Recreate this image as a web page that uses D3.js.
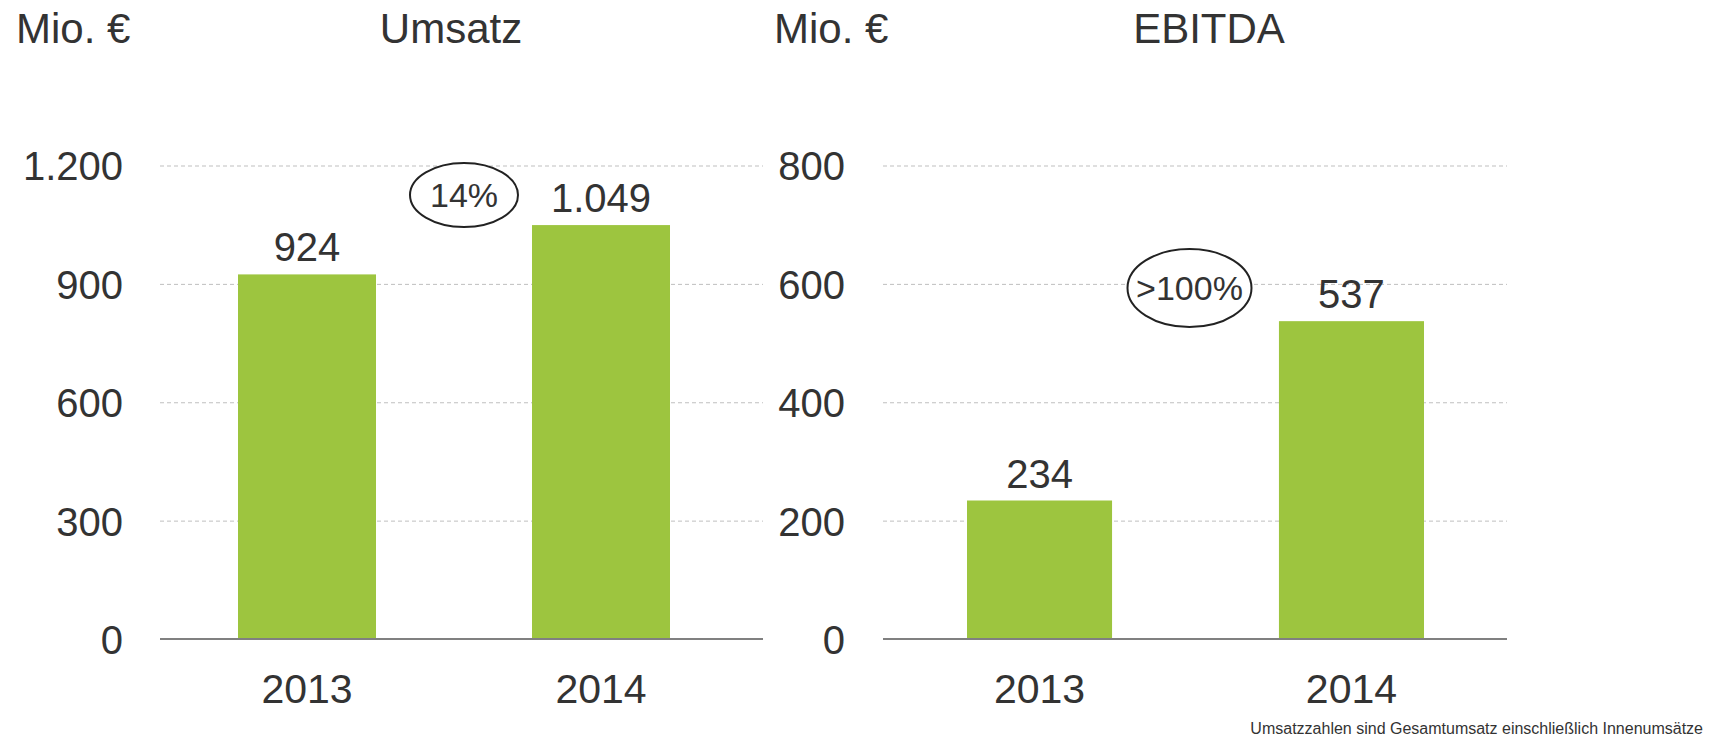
<!DOCTYPE html>
<html>
<head>
<meta charset="utf-8">
<script src="https://cdn.jsdelivr.net/npm/d3@7"></script>
<style>
  body { margin: 0; background: #fff; }
  text { font-family: "Liberation Sans", Arial, sans-serif; fill: #333; }
</style>
</head>
<body>
<svg id="chart" width="1710" height="739"></svg>
<script>
var years = ["2013", "2014"];
var umsatz = [924, 1049];
var ebitda = [234, 537];
var umsatzTicks = [0, 300, 600, 900, 1200];
var ebitdaTicks = [0, 200, 400, 600, 800];
var titles = ["Umsatz", "EBITDA"];
var changes = ["14%", ">100%"];
var unit = "Mio. €";
var footnote = "Umsatzzahlen sind Gesamtumsatz einschließlich Innenumsätze";

var de = d3.formatLocale({decimal: ",", thousands: ".", grouping: [3], currency: ["", " €"]});
var fmt = de.format(",d");

var svg = d3.select("#chart");
var haut = 165.5, bas = 639;

var panels = [
  {values: umsatz, ticks: umsatzTicks, max: 1200, title: titles[0], change: changes[0],
   axe: [160, 763], barres: [238, 670], pad: 0.5306, unitX: 16, titleX: 451, labelPad: 37,
   ell: {dx: 10, v: 1125, rx: 54, ry: 32}},
  {values: ebitda, ticks: ebitdaTicks, max: 800, title: titles[1], change: changes[1],
   axe: [883, 1507], barres: [967, 1424], pad: 0.535, unitX: 774, titleX: 1209, labelPad: 38,
   ell: {dx: -6, v: 593, rx: 62, ry: 39}}
];

panels.forEach(function(p) {
  var x = d3.scaleBand().domain(years).range(p.barres).paddingInner(p.pad);
  var y = d3.scaleLinear().domain([0, p.max]).range([bas, haut]);
  var g = svg.append("g");

  // grille + graduations
  var yAxis = g.append("g")
    .attr("transform", `translate(${p.axe[0]},0)`)
    .call(d3.axisLeft(y).tickValues(p.ticks).tickFormat(fmt)
      .tickSize(-(p.axe[1] - p.axe[0])).tickPadding(p.labelPad));
  yAxis.select(".domain").remove();
  yAxis.selectAll(".tick line")
    .attr("stroke", "#bfbfbf")
    .attr("stroke-dasharray", "4,3")
    .attr("display", function(d) { return d === 0 ? "none" : null; });
  yAxis.selectAll(".tick text")
    .attr("dy", "0.36em")
    .style("font-size", "40px")
    .style("font-family", "'Liberation Sans', Arial, sans-serif")
    .attr("fill", "#333");

  g.selectAll("rect")
    .data(p.values)
    .enter()
    .append("rect")
    .attr("x", function(d, i) { return x(years[i]); })
    .attr("y", function(d) { return y(d); })
    .attr("width", x.bandwidth())
    .attr("height", function(d) { return y(0) - y(d); })
    .attr("fill", "#9dc53f");

  g.append("line")
    .attr("x1", p.axe[0]).attr("x2", p.axe[1])
    .attr("y1", y(0)).attr("y2", y(0))
    .attr("stroke", "#808080")
    .attr("stroke-width", 2);

  g.selectAll(".val")
    .data(p.values)
    .enter()
    .append("text")
    .attr("class", "val")
    .attr("x", function(d, i) { return x(years[i]) + x.bandwidth() / 2; })
    .attr("y", function(d) { return y(d) - 13; })
    .attr("text-anchor", "middle")
    .style("font-size", "40px")
    .text(function(d) { return fmt(d); });

  g.selectAll(".an")
    .data(years)
    .enter()
    .append("text")
    .attr("class", "an")
    .attr("x", function(d) { return x(d) + x.bandwidth() / 2; })
    .attr("y", 703)
    .attr("text-anchor", "middle")
    .style("font-size", "41px")
    .text(function(d) { return d; });

  g.append("text")
    .attr("x", p.unitX).attr("y", 43)
    .style("font-size", "42px")
    .text(unit);

  g.append("text")
    .attr("x", p.titleX).attr("y", 43)
    .attr("text-anchor", "middle")
    .style("font-size", "42px")
    .text(p.title);

  var cx = (x(years[0]) + x(years[1]) + x.bandwidth()) / 2 + p.ell.dx;
  var cy = y(p.ell.v);
  g.append("ellipse")
    .attr("cx", cx).attr("cy", cy)
    .attr("rx", p.ell.rx).attr("ry", p.ell.ry)
    .attr("fill", "#fff")
    .attr("stroke", "#222")
    .attr("stroke-width", 2);
  g.append("text")
    .attr("x", cx).attr("y", cy)
    .attr("dy", "0.36em")
    .attr("text-anchor", "middle")
    .style("font-size", "34px")
    .text(p.change);
});

svg.append("text")
  .attr("x", 1703).attr("y", 734)
  .attr("text-anchor", "end")
  .style("font-size", "16px")
  .text(footnote);
</script>
</body>
</html>
